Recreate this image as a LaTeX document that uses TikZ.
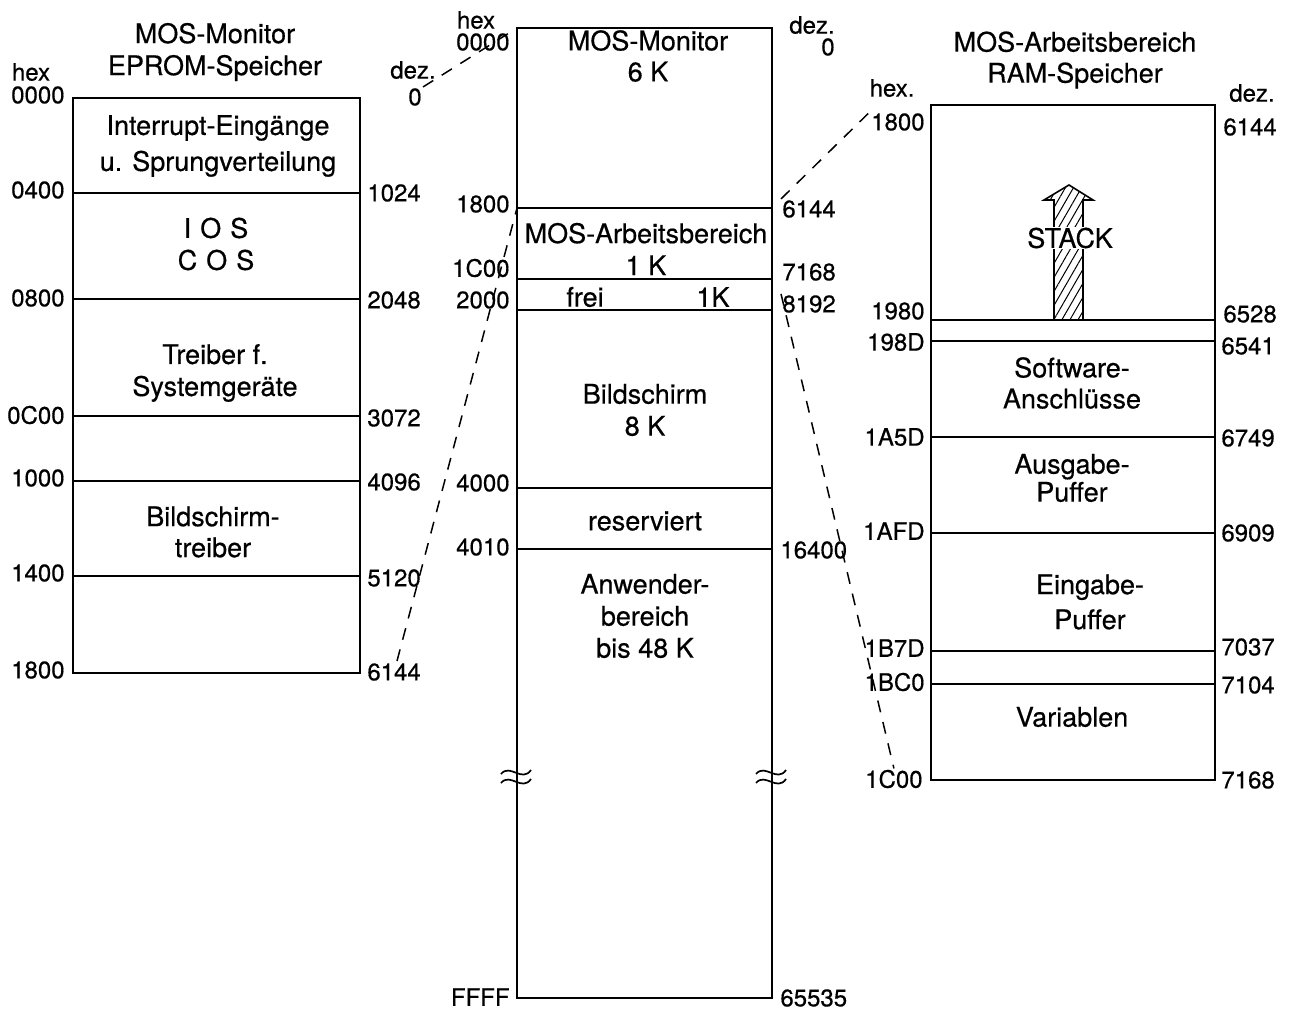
\documentclass[tikz,border=0pt]{standalone}
\usepackage{fontspec}
\setmainfont{TeX Gyre Heros}[FakeBold=0.5]
\usetikzlibrary{patterns.meta}
\begin{document}
\begin{tikzpicture}[x=0.5pt,y=-0.5pt]
\tikzset{
 frame/.style={line width=1pt},
 divider/.style={line width=0.85pt},
 txt/.style={font=\fontsize{13.5}{16}\selectfont, align=center, inner sep=1pt},
 lbl/.style={font=\fontsize{12}{13}\selectfont, inner sep=0.5pt},
 hexl/.style={lbl, anchor=east},
 dezl/.style={lbl, anchor=west},
 link/.style={line width=0.75pt, dash pattern=on 6pt off 5pt},
 brk/.style={line width=0.85pt},
}
\useasboundingbox (0,0) rectangle (1295,1011);

% ---------------- left box: EPROM ----------------
\coordinate (L-nw) at (73,98);
\coordinate (L-se) at (360,673);
\draw[frame] (L-nw) rectangle (L-se);
\foreach \y in {193,299,416,481,576} \draw[divider] (73,\y) -- (360,\y);

\node[txt] (Ltitle) at (215,52) {MOS-Monitor\\EPROM-Speicher};
\node[lbl] (Lhex) at (31,72) {hex};
\node[hexl] (Lh0) at (66,95) {0000};
\node[hexl] (Lh1) at (66,190) {0400};
\node[hexl] (Lh2) at (66,298) {0800};
\node[hexl] (Lh3) at (66,415) {0C00};
\node[hexl] (Lh4) at (66,478) {1000};
\node[hexl] (Lh5) at (66,573) {1400};
\node[hexl] (Lh6) at (66,670) {1800};
\node[lbl] (Ldez) at (413,70) {dez.};
\node[lbl] (Ld0) at (415,97) {0};
\node[dezl] (Ld1) at (366,193) {1024};
\node[dezl] (Ld2) at (366,300) {2048};
\node[dezl] (Ld3) at (366,418) {3072};
\node[dezl] (Ld4) at (366,482) {4096};
\node[dezl] (Ld5) at (366,578) {5120};
\node[dezl] (Ld6) at (366,672) {6144};

\node[txt, font=\fontsize{13.5}{18}\selectfont] (Lt1) at (218,146) {Interrupt-Eingänge\\u. Sprungverteilung};
\node[txt] (Lt2) at (216,244) {I\,\,O\,\,S\\C\,\,O\,\,S};
\node[txt] (Lt3) at (215,373) {Treiber f.\\Systemgeräte};
\node[txt, font=\fontsize{13.5}{15.5}\selectfont] (Lt4) at (213,532) {Bildschirm-\\treiber};

% ---------------- middle box: whole memory ----------------
\coordinate (M-nw) at (517,28);
\coordinate (M-se) at (772,998);
\draw[frame] (M-nw) rectangle (M-se);
\foreach \y in {208,279,310,488,549} \draw[divider] (517,\y) -- (772,\y);
\coordinate (M1800w) at (517,208);

\node[lbl] (Mhex) at (476,20) {hex};
\node[hexl] (Mh0) at (511,42) {0000};
\node[hexl] (Mh1) at (511,204) {1800};
\node[hexl] (Mh2) at (511,268) {1C00};
\node[hexl] (Mh3) at (511,300) {2000};
\node[hexl] (Mh4) at (511,483) {4000};
\node[hexl] (Mh5) at (511,547) {4010};
\node[hexl] (Mh6) at (511,997) {FFFF};
\node[lbl] (Mdez) at (812,25) {dez.};
\node[lbl] (Md0) at (828,47) {0};
\node[dezl] (Md1) at (781,209) {6144};
\node[dezl] (Md2) at (781,272) {7168};
\node[dezl] (Md3) at (781,304) {8192};
\node[dezl] (Md4) at (779,550) {16400};
\node[dezl] (Md5) at (779,998) {65535};

\node[txt, font=\fontsize{13.5}{15.5}\selectfont] (Mt1) at (648,56) {MOS-Monitor\\6 K};
\node[txt] (Mt2) at (646,249) {MOS-Arbeitsbereich\\1 K};
\node[txt] (Mt3a) at (585,297) {frei};
\node[txt] (Mt3b) at (713,297) {1K};
\node[txt] (Mt4) at (645,410) {Bildschirm\\8 K};
\node[txt] (Mt5) at (645,521) {reserviert};
\node[txt] (Mt6) at (645,616) {Anwender-\\bereich\\bis 48 K};

% break marks
\foreach \x in {501,756}{
  \draw[brk] (\x,774) .. controls (\x+9,763) and (\x+21,783) .. (\x+30,770);
  \draw[brk] (\x,783) .. controls (\x+9,772) and (\x+21,792) .. (\x+30,779);
}

% ---------------- right box: RAM ----------------
\coordinate (R-nw) at (931,105);
\coordinate (R-se) at (1215,780);
\draw[frame] (R-nw) rectangle (R-se);
\foreach \y in {320,341,437,533,651,684} \draw[divider] (931,\y) -- (1215,\y);

\node[txt, font=\fontsize{13.5}{15.5}\selectfont] (Rtitle) at (1075,60) {MOS-Arbeitsbereich\\RAM-Speicher};
\node[lbl] (Rhex) at (892,88) {hex.};
\node[hexl] (Rh0) at (926,122) {1800};
\node[hexl] (Rh1) at (926,311) {1980};
\node[hexl] (Rh2) at (926,342) {198D};
\node[hexl] (Rh3) at (926,437) {1A5D};
\node[hexl] (Rh4) at (926,531) {1AFD};
\node[hexl] (Rh5) at (926,648) {1B7D};
\node[hexl] (Rh6) at (926,682) {1BC0};
\node[hexl] (Rh7) at (924,779) {1C00};
\node[lbl] (Rdez) at (1252,93) {dez.};
\node[dezl] (Rd0) at (1222,127) {6144};
\node[dezl] (Rd1) at (1222,314) {6528};
\node[dezl] (Rd2) at (1220,346) {6541};
\node[dezl] (Rd3) at (1220,438) {6749};
\node[dezl] (Rd4) at (1220,533) {6909};
\node[dezl] (Rd5) at (1220,647) {7037};
\node[dezl] (Rd6) at (1220,685) {7104};
\node[dezl] (Rd7) at (1220,780) {7168};

% stack arrow
\draw[line width=0.8pt, pattern={Lines[angle=60,distance=3.5pt,line width=0.5pt]}]
  (1054,320) -- (1054,200) -- (1044,200) -- (1069,185) -- (1093,200) -- (1083,200) -- (1083,320);
\node[txt, fill=white, inner sep=0.5pt] (stack) at (1070,238) {STACK};

\node[txt, font=\fontsize{13.5}{15.5}\selectfont] (Rt1) at (1072,383) {Software-\\Anschlüsse};
\node[txt, font=\fontsize{13.5}{14}\selectfont] (Rt2) at (1072,478) {Ausgabe-\\Puffer};
\node[txt, font=\fontsize{13.5}{17.5}\selectfont] (Rt3) at (1090,602) {Eingabe-\\Puffer};
\node[txt] (Rt4) at (1072,717) {Variablen};

% ---------------- dashed connectors ----------------
\coordinate (Lc6144) at (397,661);
\draw[link] (Ld0.north east) -- (M-nw);
\draw[link] (Lc6144) -- (M1800w);
\draw[link] (Md1.north west) -- (Rh0.north west);
\draw[link] (Md3.north west) -- (Rh7.north);
\end{tikzpicture}
\end{document}
